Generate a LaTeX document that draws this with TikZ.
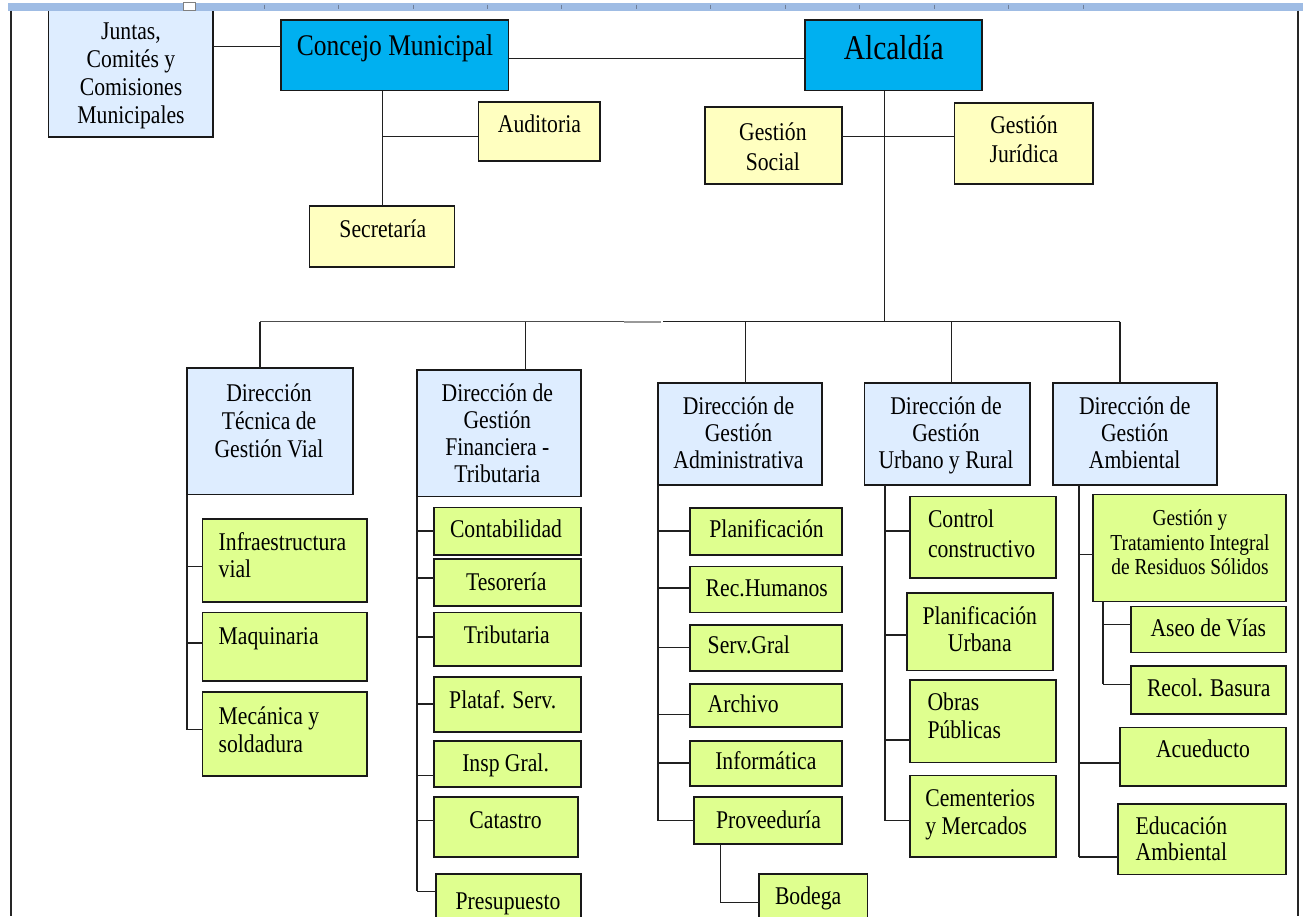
\documentclass[tikz,border=0pt]{standalone}
\usepackage{fontspec}
\setmainfont{Liberation Serif}[FakeStretch=0.85]
\definecolor{dblue}{HTML}{00B0F0}
\definecolor{lblue}{HTML}{DEEDFF}
\definecolor{lyel}{HTML}{FFFFC0}
\definecolor{lgreen}{HTML}{DFFF8F}
\definecolor{rulerc}{HTML}{9FBCE4}
\definecolor{tickc}{HTML}{6F7F99}
\definecolor{linec}{HTML}{202020}
\newcommand\obox[6]{%
  \pgfmathsetmacro\obW{#5-#3}\pgfmathsetmacro\obH{#6-#4}%
  \pgfmathsetmacro\obX{(#3+#5)/2}\pgfmathsetmacro\obY{(#4+#6)/2}%
  \node[#2, minimum width=\obW pt, minimum height=\obH pt] (#1) at (\obX,\obY) {};}
\newcommand\brn[3]{\draw[conn] (#1 |- 0,#3) -- (#2.west |- 0,#3);}
\begin{document}
\begin{tikzpicture}[x=1pt,y=-1pt,
  bx/.style={draw=black!90, line width=1.8pt, inner sep=0pt, outer sep=0pt, rectangle},
  top/.style={bx, fill=dblue},
  dir/.style={bx, fill=lblue},
  yel/.style={bx, fill=lyel},
  grn/.style={bx, fill=lgreen},
  conn/.style={draw=linec, line width=1.5pt},
  tx/.style={inner sep=0pt, outer sep=0pt, align=center, text=black, font=\fontsize{25.5}{#1}\selectfont},
  tx/.default=27.5,
  txl/.style={tx=#1, align=left, anchor=base west},
  txl/.default=27.5]
\useasboundingbox (0,0) rectangle (1303,916);
\clip (0,0) rectangle (1303,916);
\fill[white] (0,0) rectangle (1303,916);

% (multi-line texts are placed by the baseline of their last line)
% ---------- top level boxes ----------
\obox{juntas}{dir}{48.5}{3}{213}{137}
\obox{concejo}{top}{281}{20}{508.5}{90.5}
\obox{alcaldia}{top}{805}{20}{982}{90.5}
\obox{auditoria}{yel}{478.4}{101.7}{600}{160.7}
\obox{secretaria}{yel}{309.5}{206}{454.4}{266.7}
\obox{gsocial}{yel}{705}{106.7}{842}{183.7}
\obox{gjuridica}{yel}{954.5}{103.3}{1093}{183.7}

\node[tx=28.2, anchor=base] (juntas-t) at (131,123.6) {Juntas,\\Comités y\\Comisiones\\Municipales};
\node[tx, font=\fontsize{30}{32}\selectfont, anchor=base] (concejo-t) at (395,55) {Concejo Municipal};
\node[tx, font=\fontsize{34.7}{36}\selectfont, anchor=base] (alcaldia-t) at (893.7,59.3) {Alcaldía};
\node[tx, anchor=base] (auditoria-t) at (539.4,132.7) {Auditoria};
\node[tx, anchor=base] (secretaria-t) at (382.8,237) {Secretaría};
\node[tx=30, anchor=base] (gsocial-t) at (772.9,170) {Gestión\\Social};
\node[tx=29, anchor=base] (gjuridica-t) at (1024,162) {Gestión\\Jurídica};

% ---------- top connectors ----------
\draw[conn] (juntas.east |- 0,46.7) -- (concejo.west |- 0,46.7);
\draw[conn] (concejo.east |- 0,58.3) -- (alcaldia.west |- 0,58.3);
\coordinate (vc) at (382.6,0);
\draw[conn] (concejo.south -| vc) -- (secretaria.north -| vc);
\draw[conn] (vc |- 0,136.3) -- (auditoria.west |- 0,136.3);
\coordinate (busmid) at (884.5,321.6);
\draw[conn] (alcaldia.south -| busmid) -- (busmid);
\draw[conn] (gsocial.east |- 0,136.7) -- (gjuridica.west |- 0,136.7);

% ---------- bus ----------
\coordinate (busL) at (259.8,321.6);
\coordinate (busG1) at (624,321.6);
\coordinate (busG2) at (661,321.6);
\coordinate (busB) at (663,321.6);
\coordinate (busR) at (1120,321.6);
\draw[conn, draw=black!70] (busL) -- (busG1);
\draw[conn, draw=black!40, line width=1.9pt] (busG1) -- (busG2);
\draw[conn] (busB) -- (busR);

% ---------- directions ----------
\obox{dtec}{dir}{187.1}{367.6}{353.1}{494.5}
\obox{dfin}{dir}{417}{370}{581.3}{496.5}
\obox{dadm}{dir}{657.8}{383.3}{821.8}{484.7}
\obox{durb}{dir}{864.5}{383.3}{1030.3}{484.7}
\obox{damb}{dir}{1052.7}{383.3}{1217.2}{484.7}

\node[tx=28, anchor=base] (dtec-t) at (269,457.4) {Dirección\\Técnica de\\Gestión Vial};
\node[tx=27.1, anchor=base] (dfin-t) at (497.3,482.7) {Dirección de\\Gestión\\Financiera -\\Tributaria};
\node[tx=27.1, anchor=base] (dadm-t) at (738.5,468.2) {Dirección de\\Gestión\\Administrativa};
\node[tx=27.1, anchor=base] (durb-t) at (946,468.2) {Dirección de\\Gestión\\Urbano y Rural};
\node[tx=27.1, anchor=base] (damb-t) at (1134.7,468.2) {Dirección de\\Gestión\\Ambiental};

\coordinate (b1) at (259.8,321.6);
\coordinate (b2) at (525.7,321.6);
\coordinate (b3) at (745.7,321.6);
\coordinate (b4) at (951.6,321.6);
\coordinate (b5) at (1120,321.6);
\draw[conn] (b1) -- (b1 |- dtec.north);
\draw[conn] (b2) -- (b2 |- dfin.north);
\draw[conn] (b3) -- (b3 |- dadm.north);
\draw[conn] (b4) -- (b4 |- durb.north);
\draw[conn] (b5) -- (b5 |- damb.north);

% ---------- vial group ----------
\obox{infra}{grn}{202.5}{519.3}{367.2}{601.8}
\obox{maquin}{grn}{202.5}{612.4}{367.2}{681.1}
\obox{mecan}{grn}{202.5}{692.1}{367.2}{776.2}
\node[txl=26.7] (infra-t) at (218.7,577) {Infraestructura\\vial};
\node[txl] (maquin-t) at (218.7,644.6) {Maquinaria};
\node[txl=28.3] (mecan-t) at (218.7,752.7) {Mecánica y\\soldadura};
\coordinate (vv) at (dtec.south west);
\draw[conn] (vv) -- (vv |- 0,729.5);
\brn{vv}{infra}{566.4}
\brn{vv}{maquin}{643}
\brn{vv}{mecan}{729.5}

% ---------- financial group ----------
\obox{conta}{grn}{434}{507.5}{581.3}{554.6}
\obox{teso}{grn}{434}{559.3}{581.3}{605.7}
\obox{tribu}{grn}{434}{612.4}{581.3}{666.2}
\obox{plataf}{grn}{434}{677.2}{581.3}{732.2}
\obox{insp}{grn}{434}{740.9}{581.3}{787.2}
\obox{catastro}{grn}{434}{797}{578}{857.2}
\obox{presup}{grn}{435.7}{873.7}{581.3}{935}
\node[tx, anchor=base] (conta-t) at (506,537.7) {Contabilidad};
\node[tx, anchor=base] (teso-t) at (506.2,590.8) {Tesorería};
\node[tx, anchor=base] (tribu-t) at (506.8,643.8) {Tributaria};
\node[tx, anchor=base] (plataf-t) at (502.7,708.6) {Plataf. Serv.};
\node[tx, anchor=base] (insp-t) at (505.6,771.5) {Insp Gral.};
\node[tx, anchor=base] (catastro-t) at (505.6,828.5) {Catastro};
\node[tx, anchor=base] (presup-t) at (508,909) {Presupuesto};
\coordinate (vf) at (dfin.south west);
\draw[conn] (vf) -- (vf |- 0,891.3);
\brn{vf}{conta}{531}
\brn{vf}{teso}{577.8}
\brn{vf}{tribu}{637}
\brn{vf}{plataf}{704}
\brn{vf}{insp}{775.4}
\brn{vf}{catastro}{820.6}
\brn{vf}{presup}{891.3}

% ---------- administrative group ----------
\obox{planif}{grn}{689.9}{508.3}{842.1}{554.6}
\obox{rechum}{grn}{689.9}{566.4}{842.1}{612.4}
\obox{servg}{grn}{689.9}{624.6}{842.1}{670.9}
\obox{archivo}{grn}{689.9}{684.3}{842.1}{727.1}
\obox{inform}{grn}{689.9}{740.9}{842.1}{786}
\obox{prov}{grn}{694.1}{797}{842.1}{844.2}
\obox{bodega}{grn}{759.2}{873.7}{867.5}{935}
\node[tx, anchor=base] (planif-t) at (766.6,537.7) {Planificación};
\node[tx, anchor=base] (rechum-t) at (766.8,596.7) {Rec.Humanos};
\node[txl] (servg-t) at (707.7,653.6) {Serv.Gral};
\node[txl] (archivo-t) at (707.7,712.6) {Archivo};
\node[tx, anchor=base] (inform-t) at (765.8,769.5) {Informática};
\node[tx, anchor=base] (prov-t) at (768.5,828.5) {Proveeduría};
\node[txl] (bodega-t) at (775,904) {Bodega};
\coordinate (vad) at (dadm.south west);
\draw[conn] (vad) -- (vad |- 0,820.6);
\brn{vad}{planif}{531}
\brn{vad}{rechum}{588}
\brn{vad}{servg}{647.4}
\brn{vad}{archivo}{714.5}
\brn{vad}{inform}{762.9}
\brn{vad}{prov}{820.6}
\coordinate (vb) at (720.7,902.7);
\draw[conn] (prov.south -| vb) -- (vb) -- (bodega.west |- vb);

% ---------- urban group ----------
\obox{control}{grn}{909.8}{496.5}{1055.6}{577.8}
\obox{planurb}{grn}{907.2}{592.7}{1053.1}{670.5}
\obox{obras}{grn}{909.8}{680.3}{1055.6}{762.5}
\obox{cement}{grn}{909.8}{775.4}{1055.6}{857.2}
\node[txl=29.5] (control-t) at (928,557.4) {Control\\constructivo};
\node[tx=27.5, anchor=base] (planurb-t) at (979.8,651.7) {Planificación\\Urbana};
\node[txl=27.5] (obras-t) at (927.5,738.1) {Obras\\Públicas};
\node[txl=27.5] (cement-t) at (925.4,834.4) {Cementerios\\y Mercados};
\coordinate (vu) at (885.2,0);
\draw[conn] (durb.south -| vu) -- (vu |- 0,820.6);
\brn{vu}{control}{531}
\brn{vu}{planurb}{634.8}
\brn{vu}{obras}{740.1}
\brn{vu}{cement}{820.6}

% ---------- environmental group ----------
\obox{gyt}{grn}{1092.9}{494.5}{1285.7}{601.4}
\obox{aseo}{grn}{1131.3}{606.5}{1285.7}{652.5}
\obox{recol}{grn}{1131.3}{666.2}{1285.7}{713.8}
\obox{acued}{grn}{1119.9}{727.5}{1285.7}{786}
\obox{educ}{grn}{1118.2}{803.7}{1285.7}{874.5}
\node[tx, font=\fontsize{22.8}{24.5}\selectfont, anchor=base] (gyt-t) at (1190,574.9) {Gestión y\\Tratamiento Integral\\de Residuos Sólidos};
\node[tx, anchor=base] (aseo-t) at (1208.3,636.7) {Aseo de Vías};
\node[tx, anchor=base] (recol-t) at (1208.7,696.9) {Recol. Basura};
\node[tx, anchor=base] (acued-t) at (1203,757.8) {Acueducto};
\node[txl=25.6] (educ-t) at (1135.6,860) {Educación\\Ambiental};
\coordinate (vm) at (1079,0);
\draw[conn] (damb.south -| vm) -- (vm |- 0,857.2);
\brn{vm}{gyt}{554.6}
\brn{vm}{acued}{762.9}
\brn{vm}{educ}{857.2}
\coordinate (vg) at (1103,0);
\draw[conn] (gyt.south -| vg) -- (vg |- 0,684.3);
\brn{vg}{aseo}{624.6}
\brn{vg}{recol}{684.3}

% ---------- window frame ----------
\fill[white] (0,0) rectangle (1303,2.7);
\fill[rulerc] (8,2.7) rectangle (1303,10.5);
\foreach \i in {0,...,11} \draw[tickc, line width=0.8pt] ({264+74.45*\i},4.5) -- ++(0,4);
\draw[fill=white, draw=gray, line width=0.8pt] (183,2.5) rectangle (195,10.5);
\draw[line width=2pt, draw=black!85] (11,10.5) -- (11,916);
\draw[line width=2.5pt, draw=black!85] (1298,10.5) -- (1298,916);
\end{tikzpicture}
\end{document}
